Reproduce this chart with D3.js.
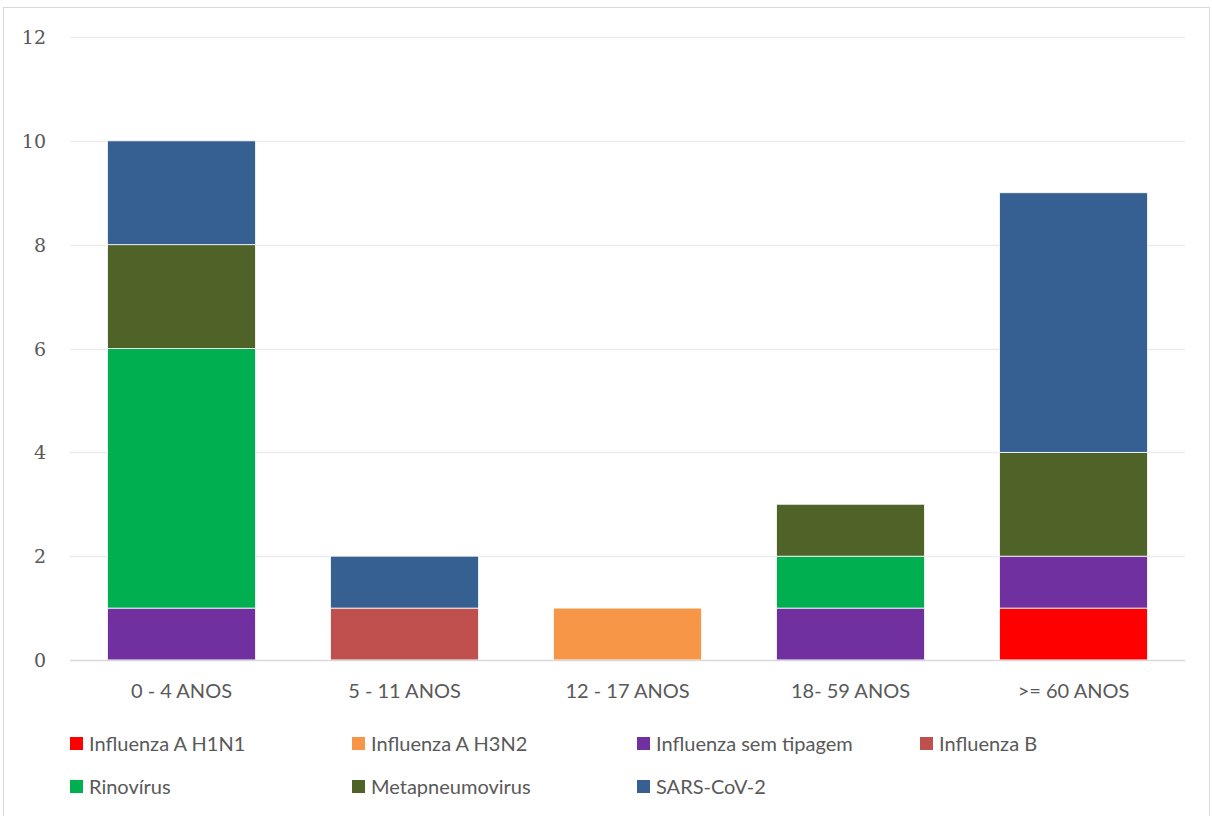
<!DOCTYPE html>
<html><head><meta charset="utf-8">
<script src="https://cdn.jsdelivr.net/npm/d3@7"></script>
<style>body{margin:0;background:#fff}</style>
</head><body>
<svg id="c" width="1212" height="816"></svg>
<script>
const categories = ["0 - 4 ANOS", "5 - 11 ANOS", "12 - 17 ANOS", "18- 59 ANOS", ">= 60 ANOS"];
const seriesNames = ["Influenza A H1N1", "Influenza A H3N2", "Influenza sem tipagem", "Influenza B", "Rinovírus", "Metapneumovirus", "SARS-CoV-2"];
const h1n1 = [0, 0, 0, 0, 1];
const h3n2 = [0, 0, 1, 0, 0];
const semTipagem = [1, 0, 0, 1, 1];
const influenzaB = [0, 1, 0, 0, 0];
const rinovirus = [5, 0, 0, 1, 0];
const metapneumo = [2, 0, 0, 1, 2];
const sars = [2, 1, 0, 0, 5];
const yTicks = [0, 2, 4, 6, 8, 10, 12];
const colors = ["#FF0000", "#F79646", "#7030A0", "#C0504D", "#00B050", "#4F6228", "#376092"];

const seriesValues = [h1n1, h3n2, semTipagem, influenzaB, rinovirus, metapneumo, sars];
const rows = categories.map((c, i) => {
  const r = {cat: c};
  seriesNames.forEach((s, j) => r[s] = seriesValues[j][i]);
  return r;
});

const svg = d3.select("#c");
svg.append("rect").attr("x", 3.5).attr("y", 7.5).attr("width", 1206).attr("height", 820)
  .attr("fill", "#fff").attr("stroke", "#d9d9d9").attr("stroke-width", 1);

const pLeft = 70, pRight = 1185, pTop = 37, pBottom = 660;
const x = d3.scaleBand().domain(categories).range([pLeft, pRight]).paddingInner(0.336).paddingOuter(0.168);
const y = d3.scaleLinear().domain([0, 12]).range([pBottom, pTop]);

// gridlines
svg.append("g").selectAll("line").data(yTicks.filter(t => t > 0)).join("line")
  .attr("x1", pLeft).attr("x2", pRight)
  .attr("y1", d => Math.round(y(d)) + 0.5).attr("y2", d => Math.round(y(d)) + 0.5)
  .attr("stroke", "#ececec").attr("stroke-width", 1.3);

// y axis labels
const yAxis = d3.axisLeft(y).tickValues(yTicks).tickSize(0).tickPadding(0);
const yg = svg.append("g").attr("transform", `translate(46,0)`).call(yAxis);
yg.select(".domain").remove();
yg.selectAll("text").attr("font-family", "'DejaVu Serif', 'Liberation Serif', serif")
  .attr("font-size", 19).attr("fill", "#595959").attr("dy", "0.35em");

const stack = d3.stack().keys(seriesNames)(rows);
svg.append("g").selectAll("g").data(stack).join("g")
  .attr("fill", (d, i) => colors[i])
  .selectAll("rect").data(d => d.filter(p => p[1] - p[0] > 0)).join("rect")
  .attr("x", d => x(d.data.cat))
  .attr("width", x.bandwidth())
  .attr("y", d => y(d[1]))
  .attr("height", d => y(d[0]) - y(d[1]))
  .attr("stroke", "#fff").attr("stroke-width", 0.8);

// x axis
const xAxis = d3.axisBottom(x).tickSize(0).tickPadding(0);
const xg = svg.append("g").attr("transform", `translate(0,${pBottom})`).call(xAxis);
xg.select(".domain").attr("stroke", "#d9d9d9").attr("stroke-width", 1.5)
  .attr("d", `M${pLeft},0.5H${pRight}`);
xg.selectAll("text").attr("font-family", "Lato, 'Open Sans', sans-serif")
  .attr("font-size", 20).attr("fill", "#595959").attr("dy", "0").attr("y", 38);

// legend
const legendX = [70, 352, 637, 920];
const legendY = [744, 787];
const lg = svg.append("g").selectAll("g").data(seriesNames).join("g")
  .attr("transform", (d, i) => `translate(${legendX[i % 4]},${legendY[Math.floor(i / 4)]})`);
lg.append("rect").attr("x", 0).attr("y", -7).attr("width", 13).attr("height", 13)
  .attr("fill", (d, i) => colors[i]);
lg.append("text").attr("x", 19).attr("y", 0).attr("dy", "0.35em")
  .attr("font-family", "Lato, 'Open Sans', sans-serif").attr("font-size", 20).attr("fill", "#595959")
  .text(d => d);
</script>
</body></html>
